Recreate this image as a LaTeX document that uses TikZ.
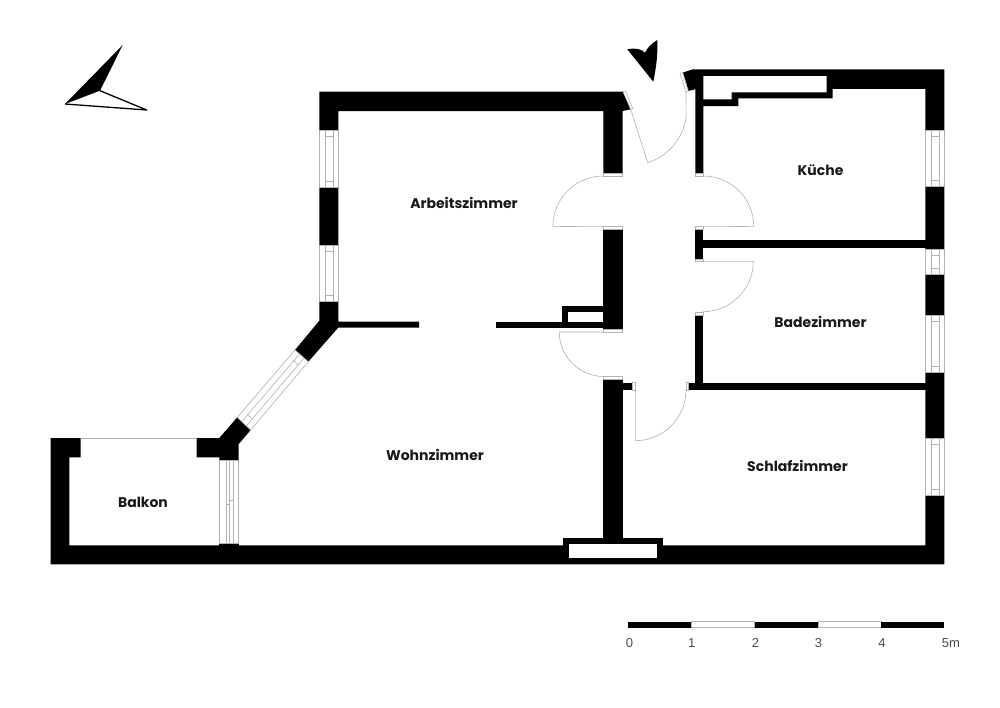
\documentclass[tikz,border=0pt]{standalone}
\usepackage{fontspec}
\usetikzlibrary{calc}
\newfontfamily\labfont{Poppins}
\setsansfont{Liberation Sans}
\tikzset{
 wall/.style={fill=black,draw=none},
 thinline/.style={draw=black!30,line width=.6pt},
 frame/.style={draw=black!30,line width=.6pt,fill=white},
 room/.style={font=\labfont\bfseries\fontsize{14}{16}\selectfont,text=black!90,inner sep=0pt},
 tick/.style={font=\sffamily\fontsize{13}{15}\selectfont,text=black!70,inner sep=0pt,anchor=base},
}
\newcommand{\vwin}[4]{% x1,x2,y1,y2
 \draw[frame] (#1,#3) rectangle (#2,#4);
 \draw[thinline] ({#1+(#2-#1)*.34},#3) -- ({#1+(#2-#1)*.34},#4)
   ({#1+(#2-#1)*.72},#3) -- ({#1+(#2-#1)*.72},#4)
   ({#1+(#2-#1)*.34},#3+6) -- ({#1+(#2-#1)*.72},#3+6)
   ({#1+(#2-#1)*.34},#4-6) -- ({#1+(#2-#1)*.72},#4-6);
}
\begin{document}
\begin{tikzpicture}[x=1pt,y=-1pt]
\useasboundingbox[fill=white] (0,0) rectangle (1000,707);
% walls: outer left, bottom, right
\fill[wall] (50.7,438) -- (80.7,438) -- (80.7,457.3) -- (69.3,457.3) -- (69.3,545.3)
  -- (925.3,545.3) -- (925.3,88.9) -- (832.7,88.9) -- (832.7,98.3) -- (738.3,98.3) -- (738.3,106)
  -- (703.3,106) -- (703.3,173.3) -- (695.3,173.3) -- (695.3,89.3) -- (688.3,91) -- (682.7,72.7)
  -- (692.7,69.3) -- (944.3,69.3) -- (944.3,564.3) -- (50.7,564.3) -- cycle;
% kitchen unit
\fill[white] (703.3,76) -- (826.7,76) -- (826.7,92.3) -- (731.7,92.3) -- (731.7,99.3) -- (703.3,99.3) -- cycle;
% north and west walls of the study
\fill[wall] (319.3,91.7) -- (623,91.7) -- (630.7,109.3) -- (622.7,111) -- (622.7,173.3) -- (603.3,173.3)
  -- (603.3,111) -- (338.3,111) -- (338.3,321.5) -- (419,321.5) -- (419,327.5) -- (338.3,327.5)
  -- (308.3,361.7) -- (295,350) -- (319.3,320.7) -- cycle;
% lower diagonal pier
\fill[wall] (237.3,417.3) -- (250.7,430) -- (238.5,444.3) -- (238.5,460.7) -- (219.3,460.7) -- (219.3,457.3)
  -- (196.7,457.3) -- (196.7,438) -- (219.3,438) -- cycle;
% inner walls
\fill[wall] (603.3,229.3) rectangle (622.7,329.3);
\fill[wall] (496,321.7) rectangle (603.3,327.5);
\fill[wall] (561.7,305.7) rectangle (603.3,327.5);
\fill[white] (567.7,312) rectangle (603.3,321.7);
\fill[wall] (603.3,379.3) rectangle (622.7,545.5);
\fill[wall] (622.7,382.7) rectangle (632.7,390);
\fill[wall] (695.3,229.3) rectangle (703.3,259);
\fill[wall] (703.3,240) rectangle (925.5,247.5);
\fill[wall] (695.3,315) rectangle (703.3,383);
\fill[wall] (688.7,382.7) rectangle (925.5,390.4);
% chimney niche in the south wall
\fill[wall] (562.7,537.7) rectangle (663.3,546);
\fill[white] (569,544.3) rectangle (657.3,557.7);
% windows
\vwin{925.3}{944.3}{130}{186.7}
\vwin{925.3}{944.3}{249}{274.3}
\vwin{925.3}{944.3}{315.7}{372.3}
\vwin{925.3}{944.3}{438.3}{495}
\vwin{319.3}{338.3}{130.7}{187.3}
\vwin{319.3}{338.3}{245}{301.7}
% south-west window
\draw[frame] (219.3,460.7) rectangle (238.5,543.5);
\draw[thinline] (226,460.7) -- (226,543.5) (229.3,460.7) -- (229.3,543.5) (233,460.7) -- (233,543.5)
  (226,504) -- (229.3,504) (229.3,500) -- (233,500);
\fill[wall] (219.3,543.5) rectangle (238.5,546);
% diagonal window
\coordinate (wa) at (295,350);
\coordinate (wb) at (308.3,361.7);
\coordinate (wc) at (250.7,430);
\coordinate (wd) at (237.3,417.3);
\draw[frame] (wa) -- (wb) -- (wc) -- (wd) -- cycle;
\draw[thinline] ($(wa)!.34!(wb)$) -- ($(wd)!.34!(wc)$) ($(wa)!.68!(wb)$) -- ($(wd)!.68!(wc)$)
  ($(wa)!.34!(wb)!.1!(wd)$) -- ($(wa)!.68!(wb)!.1!(wc)$)
  ($(wd)!.34!(wc)!.1!(wa)$) -- ($(wd)!.68!(wc)!.1!(wb)$);
% balcony rail
\draw[thinline] (80.7,438) -- (196.7,438);
% door frames
\draw[frame] (603.3,173.3) rectangle (622.7,176);
\draw[frame] (603.3,226.7) rectangle (622.7,229.3);
\draw[frame] (695.3,173.3) rectangle (703.3,176);
\draw[frame] (695.3,226.7) rectangle (703.3,229.3);
\draw[frame] (695.3,259) rectangle (703.3,261.3);
\draw[frame] (695.3,312.3) rectangle (703.3,315);
\draw[frame] (603.3,329.3) rectangle (622.7,332);
\draw[frame] (603.3,376.7) rectangle (622.7,379.3);
\draw[frame] (632.7,382.7) rectangle (635.3,390);
\draw[frame] (686,382.7) rectangle (688.7,390.4);
\draw[frame] (623,91.7) -- (625.6,91) -- (632.8,108.8) -- (630.7,109.3) -- cycle;
\draw[frame] (680,73.3) -- (682.7,72.7) -- (688.3,91) -- (686,91.7) -- cycle;
% door swings
\draw[thinline] (603.3,176) arc[start angle=90,end angle=180,radius=50.4pt] -- (603.3,226.7);
\draw[thinline] (703.3,176) arc[start angle=90,end angle=0,radius=50.4pt] -- (703.3,226.7);
\draw[thinline] (703.3,261.3) -- (753.3,261.3) arc[start angle=0,end angle=-90,radius=50.4pt];
\draw[thinline] (603.3,332) -- (559.3,332) arc[start angle=180,end angle=270,radius=44.5pt];
\draw[thinline] (635.3,390) -- (635.3,440.7) arc[start angle=-90,end angle=0,radius=50.7pt];
\draw[thinline] (630.7,109.3) -- (647.7,162.7) arc[start angle=-72.3,end angle=-8,radius=56pt] -- (686,91.7);
% entrance arrow
\fill[black] (653.3,81.7) -- (627.3,49.3) .. controls (634,47.5) and (642,49) .. (645,52.7)
  .. controls (647,48) and (652,43) .. (657.3,40) .. controls (658,55) and (656,68) .. cycle;
% north arrow
\fill[black] (122.7,45) -- (65,104) -- (100,90.7) -- cycle;
\draw[black,line width=1.3pt,line join=round] (65,104) -- (146.7,110) -- (100,90.7);
% scale bar
\fill[wall] (628.3,621.7) rectangle (691.7,627.7);
\draw[frame] (691.7,621.7) rectangle (754.7,627.7);
\fill[wall] (754.7,621.7) rectangle (818.3,627.7);
\draw[frame] (818.3,621.7) rectangle (881,627.7);
\fill[wall] (881,621.7) rectangle (944.3,627.7);
\node[tick] (s0) at (629.5,647) {0};
\node[tick] (s1) at (691.7,647) {1};
\node[tick] (s2) at (755.5,647) {2};
\node[tick] (s3) at (818.5,647) {3};
\node[tick] (s4) at (882,647) {4};
\node[tick] (s5) at (951,647) {5m};
% rooms
\node[room] (r1) at (464,203) {Arbeitszimmer};
\node[room] (r2) at (820.5,170) {Küche};
\node[room] (r3) at (820.5,322) {Badezimmer};
\node[room] (r4) at (797.5,465.5) {Schlafzimmer};
\node[room] (r5) at (435,455) {Wohnzimmer};
\node[room] (r6) at (143,502) {Balkon};
\end{tikzpicture}
\end{document}
